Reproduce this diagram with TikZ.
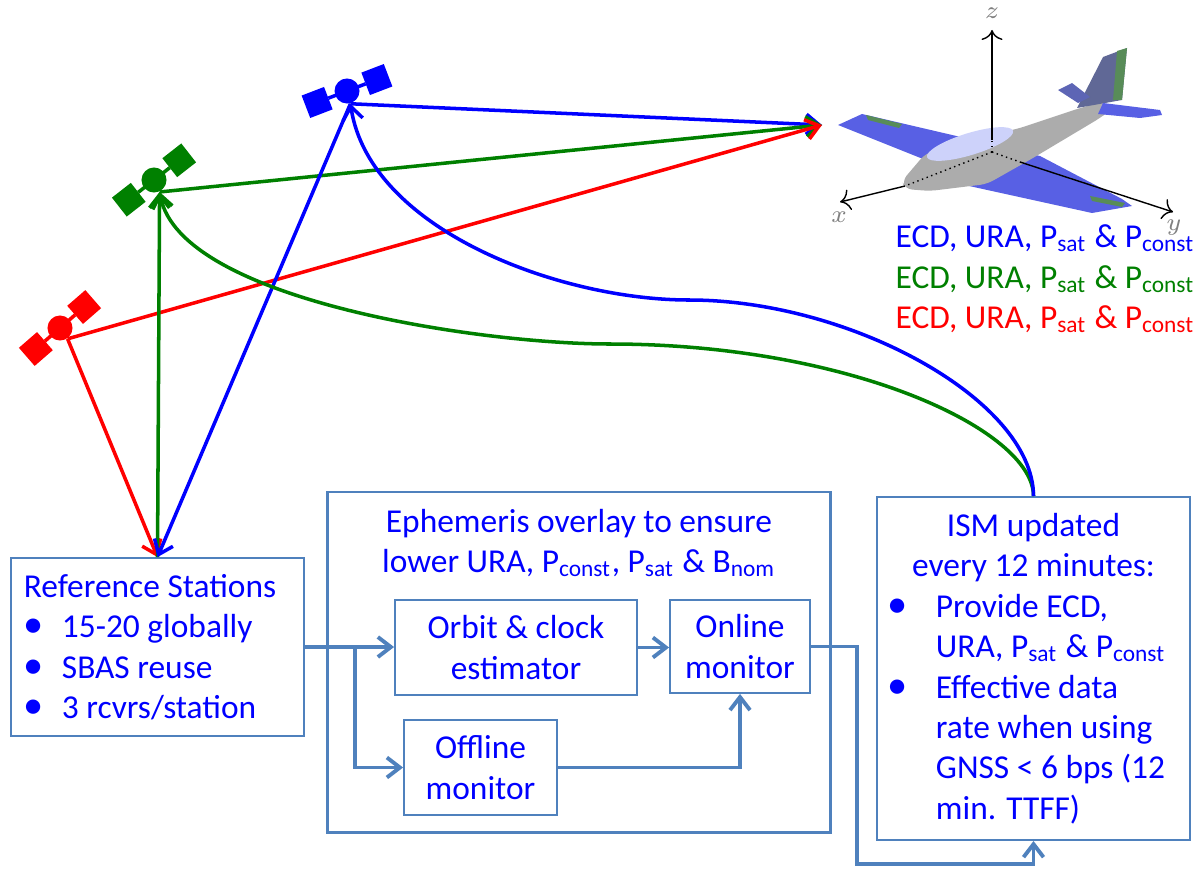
\documentclass[tikz,border=0pt]{standalone}
\usepackage{fontspec}
\setmainfont{Carlito}
\usetikzlibrary{arrows.meta}
\definecolor{boxblue}{RGB}{79,129,189}
\definecolor{satgreen}{RGB}{0,128,0}
\definecolor{wingblue}{RGB}{88,96,228}
\definecolor{bodygray}{RGB}{172,172,172}
\definecolor{tailgray}{RGB}{96,104,150}
\definecolor{canopy}{RGB}{205,210,250}
\definecolor{stripe}{RGB}{88,140,88}
\newcommand{\itemdot}[1]{\makebox[#1][l]{\fontsize{11.5}{11.5}\selectfont •}}

\begin{document}
\begin{tikzpicture}[x=0.01cm, y=-0.01cm,
    font=\fontsize{9.5}{11.5}\selectfont,
    >={Straight Barb[length=1.3mm,width=2mm]},
    box/.style ={draw=boxblue, line width=0.5pt, text=blue, inner sep=0pt},
    link/.style ={draw=boxblue, line width=1.1pt, ->},
    sat/.style ={circle, inner sep=0pt, minimum size=0.25cm},
    ray/.style ={line width=1pt, ->},
    axis/.style ={-{To[length=1mm]}, line width=0.4pt},
    axlabel/.style ={text=gray, font=\scriptsize}]
   \useasboundingbox (0,0) rectangle (1195,870);

   % aircraft
   \fill[wingblue] (838,125) -- (862,114) -- (965,138) -- (1040,156) -- (1122,199)
      -- (1132,206) -- (1092,213) -- (960,184) -- (928,161) -- cycle;
   \fill[stripe] (866,115) -- (902,124) -- (899,128) -- (868,120) -- cycle;
   \fill[stripe] (1090,196) -- (1125,203) -- (1122,207) -- (1092,201) -- cycle;
   \fill[bodygray, rounded corners=2pt] (902,181) -- (925,154) -- (965,139) -- (1017,129)
      -- (1077,109) -- (1105,101) -- (1108,112) -- (1100,118) -- (1033,158)
      -- (987,184) -- (930,191) -- (905,189) -- cycle;
   \fill[canopy, rotate around={17:(970,144)}] (970,144) ellipse [x radius=45, y radius=11];
   \fill[tailgray] (1077,108) -- (1103,57) -- (1127,48) -- (1122,100) -- cycle;
   \fill[stripe] (1117,51) -- (1127,48) -- (1122,100) -- (1113,100) -- cycle;
   \fill[tailgray!60!wingblue] (1058,90) -- (1072,83) -- (1090,97) -- (1078,103) -- cycle;
   \fill[wingblue] (1103,103) -- (1160,110) -- (1162,115) -- (1140,118) -- (1098,114) -- cycle;
   \coordinate (o) at (992,152);
   \draw[densely dotted] (o) -- (992,140);
   \draw[axis] (992,140) -- (992,30);
   \draw[densely dotted] (o) -- (905,186);
   \draw[axis] (905,186) -- (840,202);
   \draw[densely dotted] (o) -- (1020,162);
   \draw[axis] (1020,162) -- (1173,212);
   \node[axlabel] (zlab) at (992,13) {$z$};
   \node[axlabel] (xlab) at (839,217) {$x$};
   \node[axlabel] (ylab) at (1174,228) {$y$};
   \coordinate (plane) at (822,125);

   \node[anchor=west, align=left, inner sep=0pt] (info) at (895,279)
      {\textcolor{blue}{ECD, URA, P\textsubscript{sat} \& P\textsubscript{const}}\\
       \textcolor{satgreen}{ECD, URA, P\textsubscript{sat} \& P\textsubscript{const}}\\
       \textcolor{red}{ECD, URA, P\textsubscript{sat} \& P\textsubscript{const}}};

   % satellites
   \foreach \col/\px/\py/\ang/\name in {blue/347/91/21/bsat, satgreen/154/180/38/gsat, red/60/328/41/rsat}{
      \begin{scope}[shift={(\px,\py)}, rotate=\ang]
         \fill[\col] (-44,-12) rectangle (-20,12) (20,-12) rectangle (44,12);
         \draw[\col, line width=1pt] (-20,0) -- (20,0);
      \end{scope}
      \node[sat, fill=\col] (\name) at (\px,\py) {};
   }

   % blocks
   \node[box, text width=2.67cm, minimum height=1.78cm, align=flush left, inner xsep=0.13cm] (ref) at (157.5,647)
      {Reference Stations\\ \itemdot{0.38cm}15-20 globally\\ \itemdot{0.38cm}SBAS reuse\\ \itemdot{0.38cm}3 rcvrs/station};
   \node[box, line width=0.8pt, minimum width=5.02cm, minimum height=3.40cm,
      label={[anchor=north, text=blue, align=center, inner sep=0pt, yshift=-0.18cm]north:{Ephemeris overlay to ensure\\ lower URA, P\textsubscript{const}, P\textsubscript{sat} \& B\textsubscript{nom}}}] (eph) at (579,662) {};
   \node[box, minimum width=2.42cm, minimum height=0.95cm, align=center] (orbit) at (516,647.5) {Orbit \& clock\\estimator};
   \node[box, minimum width=1.40cm, minimum height=0.93cm, align=center] (online) at (740,646.5) {Online\\monitor};
   \node[box, minimum width=1.53cm, minimum height=0.95cm, align=center] (offline) at (480.5,767.5) {Offline\\monitor};
   \node[box, text width=2.91cm, minimum height=3.43cm, align=flush left, inner xsep=0.11cm] (ism) at (1033.5,668.5)
      {\makebox[2.91cm]{ISM updated}\\ \makebox[2.91cm]{every 12 minutes:}\\
       \mbox{\itemdot{0.48cm}Provide ECD,}\\
       \mbox{\hspace*{0.48cm}URA, P\textsubscript{sat} \& P\textsubscript{const}}\\
       \mbox{\itemdot{0.48cm}Effective data}\\
       \mbox{\hspace*{0.48cm}rate when using}\\
       \mbox{\hspace*{0.48cm}GNSS < 6 bps (12}\\
       \mbox{\hspace*{0.48cm}min. TTFF)}};

   % block links
   \coordinate (split) at (355,647);
   \coordinate (drop) at (857,864);
   \draw[link] (ref.east) -- (ref.east -| orbit.west);
   \draw[link] (split) |- (offline.west);
   \draw[link] (orbit.east) -- (orbit.east -| online.west);
   \draw[link] (offline.east) -| (online.south);
   \draw[link] (online.east) -| (drop) -| (ism.south);

   % satellite links
   \draw[ray, blue] (bsat.-75) -- (plane);
   \draw[ray, satgreen] (gsat.-65) -- (plane);
   \draw[ray, red] (rsat.-55) -- (plane);
   \draw[ray, red] (rsat.-55) -- (ref.north);
   \draw[ray, satgreen] (ref.north) -- (gsat.-65);
   \draw[ray, blue] (bsat.-75) -- (ref.north);
   \draw[ray, satgreen] (ism.north) .. controls (1033,430) and (850,344) .. (610,344)
      .. controls (480,344) and (180,300) .. (gsat.-65);
   \draw[ray, blue] (ism.north) .. controls (1033,400) and (850,300) .. (689,300)
      .. controls (560,300) and (370,230) .. (bsat.-75);
\end{tikzpicture}
\end{document}
